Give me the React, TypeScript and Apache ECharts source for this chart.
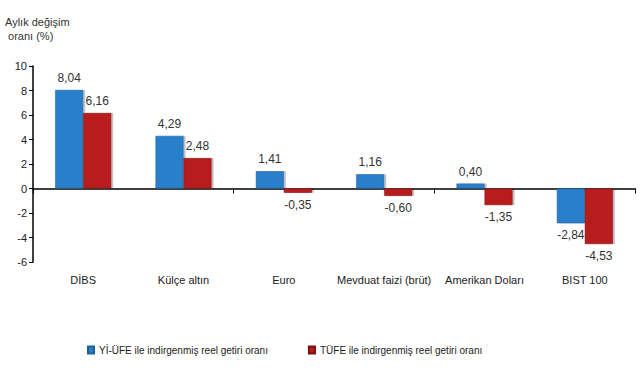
import React, { useEffect, useRef } from "react";
import * as echarts from "echarts";

const categories = ["DİBS", "Külçe altın", "Euro", "Mevduat faizi (brüt)", "Amerikan Doları", "BIST 100"];
const yiUfe = [8.04, 4.29, 1.41, 1.16, 0.4, -2.84];
const tufe = [6.16, 2.48, -0.35, -0.6, -1.35, -4.53];
const seriesNames = ["Yİ-ÜFE ile indirgenmiş reel getiri oranı", "TÜFE ile indirgenmiş reel getiri oranı"];

const fmt = (v: number) => v.toFixed(2).replace(".", ",");

export default function App() {
  const ref = useRef<HTMLDivElement>(null);
  useEffect(() => {
    if (!ref.current) return;
    const chart = echarts.init(ref.current, undefined, { renderer: "svg" });
    const font = "'Liberation Sans', Arial, sans-serif";
    const mkLabel = (vals: number[]) =>
      vals.map((v) => ({
        value: v,
        label: {
          show: true,
          position: v >= 0 ? "top" : "bottom",
          distance: 6,
          formatter: () => fmt(v),
          color: "#333",
          fontSize: 12,
          fontFamily: font,
        },
      }));
    chart.setOption({
      animation: false,
      textStyle: { fontFamily: font },
      title: {
        text: "Aylık değişim\n oranı (%)",
        left: 0,
        top: 10,
        textStyle: { fontSize: 11, fontWeight: "normal", color: "#333", lineHeight: 14, fontFamily: font },
      },
      legend: {
        bottom: 20,
        left: 82,
        itemWidth: 6,
        itemHeight: 7,
        itemGap: 40,
        icon: "rect",
        textStyle: { fontSize: 10, color: "#222", fontFamily: font },
        data: seriesNames,
      },
      grid: { left: 33, right: 6, top: 66, bottom: 118, containLabel: false },
      xAxis: [
        {
          type: "category",
          data: categories,
          position: "bottom",
          axisLine: { show: true, onZero: true, lineStyle: { color: "#000", width: 1.5 } },
          axisTick: { show: true, length: 5, lineStyle: { color: "#000" } },
          axisLabel: { show: false },
        },
        {
          type: "category",
          data: categories,
          position: "bottom",
          axisLine: { show: false, onZero: false },
          axisTick: { show: false },
          axisLabel: { show: true, color: "#222", fontSize: 11, margin: 12, fontFamily: font, interval: 0 },
        },
      ],
      yAxis: {
        type: "value",
        min: -6,
        max: 10,
        interval: 2,
        axisLine: { show: true, lineStyle: { color: "#000", width: 1.5 } },
        axisTick: { show: true, length: 4, lineStyle: { color: "#000" } },
        axisLabel: { color: "#222", fontSize: 11, margin: 6, fontFamily: font },
        splitLine: { show: false },
      },
      series: [
        {
          name: seriesNames[0],
          type: "bar",
          xAxisIndex: 0,
          data: mkLabel(yiUfe),
          barWidth: 28,
          barGap: "0%",
          itemStyle: { color: "#2b7fcb", borderColor: "#1f5f99", borderWidth: 0.5, shadowColor: "rgba(0,0,0,0.25)", shadowOffsetX: 2, shadowOffsetY: 0, shadowBlur: 1 },
        },
        {
          name: seriesNames[1],
          type: "bar",
          xAxisIndex: 0,
          data: mkLabel(tufe),
          barWidth: 28,
          barGap: "0%",
          itemStyle: { color: "#b81c1e", borderColor: "#7a1010", borderWidth: 0.5, shadowColor: "rgba(0,0,0,0.25)", shadowOffsetX: 2, shadowOffsetY: 0, shadowBlur: 1 },
        },
      ],
    });
    return () => chart.dispose();
  }, []);
  return <div ref={ref} style={{ width: 641, height: 380, position: "absolute", left: 0, top: 0, background: "#fff" }} />;
}
